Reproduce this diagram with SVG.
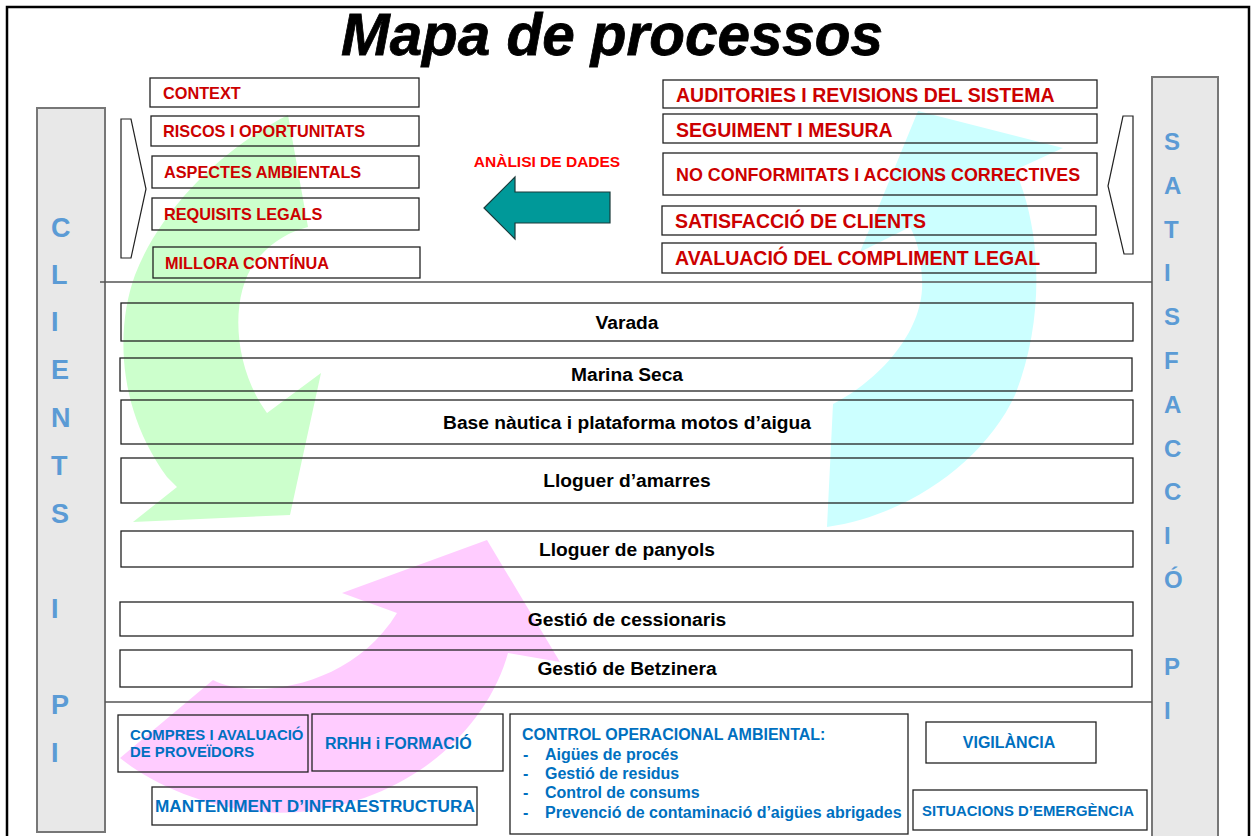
<svg xmlns="http://www.w3.org/2000/svg" width="1254" height="836" viewBox="0 0 1254 836">
<style>
text{font-family:"Liberation Sans",Arial,sans-serif;font-weight:bold}
.box{fill:none;stroke:#222;stroke-width:1.3}
.bar{fill:#e8e8e8;stroke:#777;stroke-width:2}
.side{fill:#5b9bd5;font-size:27px}
.sider{fill:#5b9bd5;font-size:24px}
.red{fill:#cc0000;font-size:16.3px}
.redr{fill:#cc0000;font-size:19.5px}
.proc{fill:#000;font-size:19.2px;text-anchor:middle}
.blue{fill:#0070c0;font-size:16px}
.div{stroke:#555;stroke-width:1.3;fill:none}
.chev{fill:#fff;stroke:#222;stroke-width:1.2}
</style>
<rect x="0" y="0" width="1254" height="836" fill="#fff"/>
<rect x="7" y="7" width="1242" height="860" fill="none" stroke="#000" stroke-width="2.5"/>
<text x="612" y="55" font-size="59" font-style="italic" text-anchor="middle" textLength="542" lengthAdjust="spacingAndGlyphs" stroke="#000" stroke-width="0.8">Mapa de processos</text>

<g id="cycle-arrows">
<path d="M288,115 C220,150 160,210 135,275 C115,330 118,410 167,477 L177,487 L133,522 L290,515 L321,373 L267,413 C235,370 228,300 255,262 C270,243 288,232 308,227 Z" fill="#ccffcc"/>
<path d="M827,527 L833,404 C880,380 925,330 922,280 C921,255 917,240 910,227 L860,252 L918,111 L1063,148 L1015,170 C1042,230 1045,320 1015,395 C985,460 910,515 827,527 Z" fill="#ccffff"/>
<path d="M120,758 L213,680 C250,700 350,690 397,613 L342,593 L487,540 L560,662 L508,653 C490,720 420,800 300,812 C230,818 160,790 120,758 Z" fill="#ffccff"/>
</g>

<g id="clients-bar">
<rect class="bar" x="37" y="108" width="68" height="724"/>
<text class="side" x="51" y="237">C</text>
<text class="side" x="51" y="284">L</text>
<text class="side" x="51" y="331">I</text>
<text class="side" x="51" y="379">E</text>
<text class="side" x="51" y="427">N</text>
<text class="side" x="51" y="475">T</text>
<text class="side" x="51" y="523">S</text>
<text class="side" x="51" y="618">I</text>
<text class="side" x="51" y="714">P</text>
<text class="side" x="51" y="762">I</text>
</g>

<g id="satisfaccio-bar">
<rect class="bar" x="1152" y="77" width="66" height="770"/>
<text class="sider" x="1164" y="150">S</text>
<text class="sider" x="1164" y="194">A</text>
<text class="sider" x="1164" y="238">T</text>
<text class="sider" x="1164" y="281">I</text>
<text class="sider" x="1164" y="325">S</text>
<text class="sider" x="1164" y="369">F</text>
<text class="sider" x="1164" y="413">A</text>
<text class="sider" x="1164" y="457">C</text>
<text class="sider" x="1164" y="500">C</text>
<text class="sider" x="1164" y="544">I</text>
<text class="sider" x="1164" y="588">Ó</text>
<text class="sider" x="1164" y="675">P</text>
<text class="sider" x="1164" y="719">I</text>
</g>

<g id="dividers">
<line class="div" x1="100" y1="282" x2="1152" y2="282"/>
<line class="div" x1="105" y1="702" x2="1152" y2="702"/>
</g>

<g id="left-chevron"><polygon class="chev" points="121,119 131,119 146,189 131,258 121,258"/></g>
<g id="right-chevron"><polygon class="chev" points="1133,116 1123,116 1108,186 1124,254 1133,254"/></g>

<g id="context"><rect class="box" x="150" y="78" width="269" height="29"/><text class="red" x="163" y="99">CONTEXT</text></g>
<g id="riscos"><rect class="box" x="151" y="116" width="268" height="30"/><text class="red" x="163" y="137">RISCOS I OPORTUNITATS</text></g>
<g id="aspectes"><rect class="box" x="152" y="156" width="267" height="32"/><text class="red" x="164" y="178">ASPECTES AMBIENTALS</text></g>
<g id="requisits"><rect class="box" x="152" y="198" width="267" height="32"/><text class="red" x="164" y="220">REQUISITS LEGALS</text></g>
<g id="millora"><rect class="box" x="153" y="247" width="267" height="31"/><text class="red" x="165" y="269">MILLORA CONTÍNUA</text></g>

<g id="auditories"><rect class="box" x="663" y="80" width="434" height="28"/><text class="redr" x="676" y="102">AUDITORIES I REVISIONS DEL SISTEMA</text></g>
<g id="seguiment"><rect class="box" x="663" y="114" width="434" height="29"/><text class="redr" x="676" y="137">SEGUIMENT I MESURA</text></g>
<g id="no-conformitats"><rect class="box" x="663" y="153" width="434" height="42"/><text class="redr" style="font-size:17.9px" x="676" y="181">NO CONFORMITATS I ACCIONS CORRECTIVES</text></g>
<g id="satisfaccio-clients"><rect class="box" x="662" y="206" width="434" height="29"/><text class="redr" x="675" y="228">SATISFACCIÓ DE CLIENTS</text></g>
<g id="avaluacio"><rect class="box" x="662" y="243" width="434" height="30"/><text class="redr" x="675" y="265">AVALUACIÓ DEL COMPLIMENT LEGAL</text></g>

<g id="connectors">
<polygon points="484,208 515,177 515,192 610,192 610,223 515,223 515,239" fill="#009999" stroke="#1a3a3a" stroke-width="1.2"/>
<text x="547" y="167" font-size="15.5" fill="#ff0000" text-anchor="middle">ANÀLISI DE DADES</text>
</g>

<g id="varada"><rect class="box" x="121" y="303" width="1012" height="38"/><text class="proc" x="627" y="329">Varada</text></g>
<g id="marina-seca"><rect class="box" x="120" y="358" width="1012" height="33"/><text class="proc" x="627" y="381">Marina Seca</text></g>
<g id="base-nautica"><rect class="box" x="121" y="400" width="1012" height="44"/><text class="proc" x="627" y="429">Base nàutica i plataforma motos d’aigua</text></g>
<g id="lloguer-amarres"><rect class="box" x="121" y="458" width="1012" height="45"/><text class="proc" x="627" y="487">Lloguer d’amarres</text></g>
<g id="lloguer-panyols"><rect class="box" x="121" y="531" width="1012" height="36"/><text class="proc" x="627" y="556">Lloguer de panyols</text></g>
<g id="cessionaris"><rect class="box" x="120" y="602" width="1013" height="34"/><text class="proc" x="627" y="626">Gestió de cessionaris</text></g>
<g id="betzinera"><rect class="box" x="120" y="650" width="1012" height="37"/><text class="proc" x="627" y="675">Gestió de Betzinera</text></g>

<g id="compres"><rect class="box" x="118" y="715" width="190" height="57"/><text class="blue" style="font-size:14.9px" x="130" y="740">COMPRES I AVALUACIÓ</text><text class="blue" style="font-size:14.9px" x="130" y="757">DE PROVEÏDORS</text></g>
<g id="rrhh"><rect class="box" x="312" y="714" width="191" height="57"/><text class="blue" x="325" y="749">RRHH i FORMACIÓ</text></g>
<g id="manteniment"><rect class="box" x="152" y="787" width="325" height="38"/><text class="blue" style="font-size:17.2px" x="155" y="812">MANTENIMENT D’INFRAESTRUCTURA</text></g>
<g id="control-operacional"><rect class="box" x="510" y="714" width="398" height="120"/>
<text class="blue" x="522" y="740">CONTROL OPERACIONAL AMBIENTAL:</text>
<text class="blue" x="523" y="760">-</text><text class="blue" x="545" y="760">Aigües de procés</text>
<text class="blue" x="523" y="779">-</text><text class="blue" x="545" y="779">Gestió de residus</text>
<text class="blue" x="523" y="798">-</text><text class="blue" x="545" y="798">Control de consums</text>
<text class="blue" x="523" y="818">-</text><text class="blue" x="545" y="818">Prevenció de contaminació d’aigües abrigades</text>
</g>
<g id="vigilancia"><rect class="box" x="926" y="722" width="170" height="41"/><text class="blue" x="1009" y="748" text-anchor="middle">VIGILÀNCIA</text></g>
<g id="emergencia"><rect class="box" x="913" y="790" width="234" height="40"/><text class="blue" style="font-size:14.9px" x="1028" y="816" text-anchor="middle">SITUACIONS D’EMERGÈNCIA</text></g>
</svg>
